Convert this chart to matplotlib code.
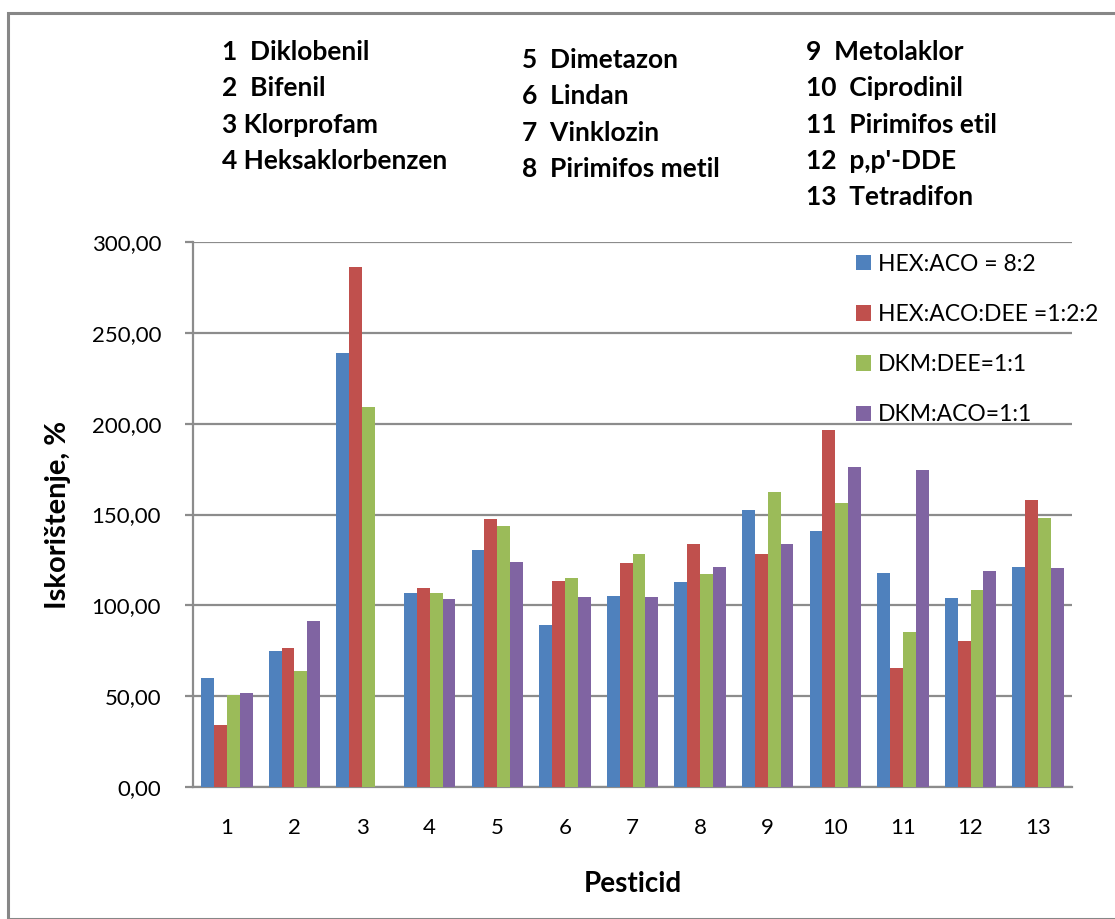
import matplotlib
matplotlib.use("Agg")
import matplotlib.pyplot as plt
from matplotlib.patches import Rectangle
from matplotlib.ticker import FuncFormatter
import numpy as np

plt.rcParams["font.family"] = ["Lato", "DejaVu Sans"]

pesticides = [str(i) for i in range(1, 14)]
series_names = ["HEX:ACO = 8:2", "HEX:ACO:DEE =1:2:2", "DKM:DEE=1:1", "DKM:ACO=1:1"]
hex_aco = [60, 75, 239, 107, 130.5, 89, 105, 113, 152.6, 141, 118, 104, 121.3]
hex_aco_dee = [34, 76.5, 286.5, 109.5, 147.6, 113.5, 123.5, 134, 128, 196.3, 65.5, 80.5, 158.2]
dkm_dee = [50.6, 64, 209.3, 106.7, 143.7, 115.2, 128, 117.5, 162.6, 156.6, 85.5, 108.6, 148.3]
dkm_aco = [51.6, 91.5, 0, 103.5, 124, 104.7, 104.7, 121.2, 134, 176, 174.3, 119, 120.7]
colors = ["#4F81BD", "#C0504D", "#9BBB59", "#8064A2"]

legend_columns = [
    ["1  Diklobenil", "2  Bifenil", "3 Klorprofam", "4 Heksaklorbenzen"],
    ["5  Dimetazon", "6  Lindan", "7  Vinklozin", "8  Pirimifos metil"],
    ["9  Metolaklor", "10  Ciprodinil", "11  Pirimifos etil", "12  p,p'-DDE", "13  Tetradifon"],
]

W, H = 1115, 919
fig = plt.figure(figsize=(W / 100, H / 100), dpi=100)

# outer chart border (runs off the right and bottom edges)
fig.patches.append(Rectangle((8 / W, 0), 1.2, (H - 13) / H, transform=fig.transFigure,
                             fill=False, edgecolor="#878787", linewidth=2.2))

ax = fig.add_axes([193 / W, (H - 787) / H, (1072 - 193) / W, (787 - 242) / H])

x = np.arange(len(pesticides))
bar_width = 0.19
all_series = [hex_aco, hex_aco_dee, dkm_dee, dkm_aco]
for i, (values, name, color) in enumerate(zip(all_series, series_names, colors)):
    ax.bar(x + (i - 1.5) * bar_width, values, width=bar_width, color=color, label=name, zorder=3)

ax.set_xlim(-0.5, len(pesticides) - 0.5)
ax.set_ylim(0, 300)
ax.set_yticks(np.arange(0, 301, 50))
ax.yaxis.set_major_formatter(FuncFormatter(lambda v, p: f"{v:.2f}".replace(".", ",")))
ax.set_xticks(x)
ax.set_xticklabels(pesticides)
ax.grid(True, axis="y", color="#8c8c8c", linewidth=1.6, zorder=0)
ax.set_axisbelow(True)

for side in ["top", "right"]:
    ax.spines[side].set_visible(False)
for side in ["left", "bottom"]:
    ax.spines[side].set_color("#8c8c8c")
    ax.spines[side].set_linewidth(1.6)

ax.tick_params(axis="y", length=6, width=1.6, color="#8c8c8c", labelsize=16, pad=17)
ax.tick_params(axis="x", length=0, labelsize=16, pad=22)

ax.set_ylabel("Iskorištenje, %", fontsize=21, fontweight="bold")
ax.set_xlabel("Pesticid", fontsize=20, fontweight="bold")
ax.yaxis.set_label_coords(-0.1536, 0.5)
ax.xaxis.set_label_coords(0.5, -0.178)
ax.yaxis.label.set_va("center")
ax.xaxis.label.set_va("center")

ax.legend(loc="upper left", bbox_to_anchor=(0.744, 0.995), frameon=False, fontsize=16.5,
          handlelength=0.65, handleheight=0.65, handletextpad=0.3, labelspacing=1.27,
          borderaxespad=0)

col_x = [222, 522, 806]
col_y0 = [52, 60, 52]
for cx, cy, lines in zip(col_x, col_y0, legend_columns):
    for k, line in enumerate(lines):
        fig.text(cx / W, 1 - (cy + k * 36.3) / H, line, fontsize=19, fontweight="bold",
                 ha="left", va="center")

fig.savefig("out.png", dpi=100)
